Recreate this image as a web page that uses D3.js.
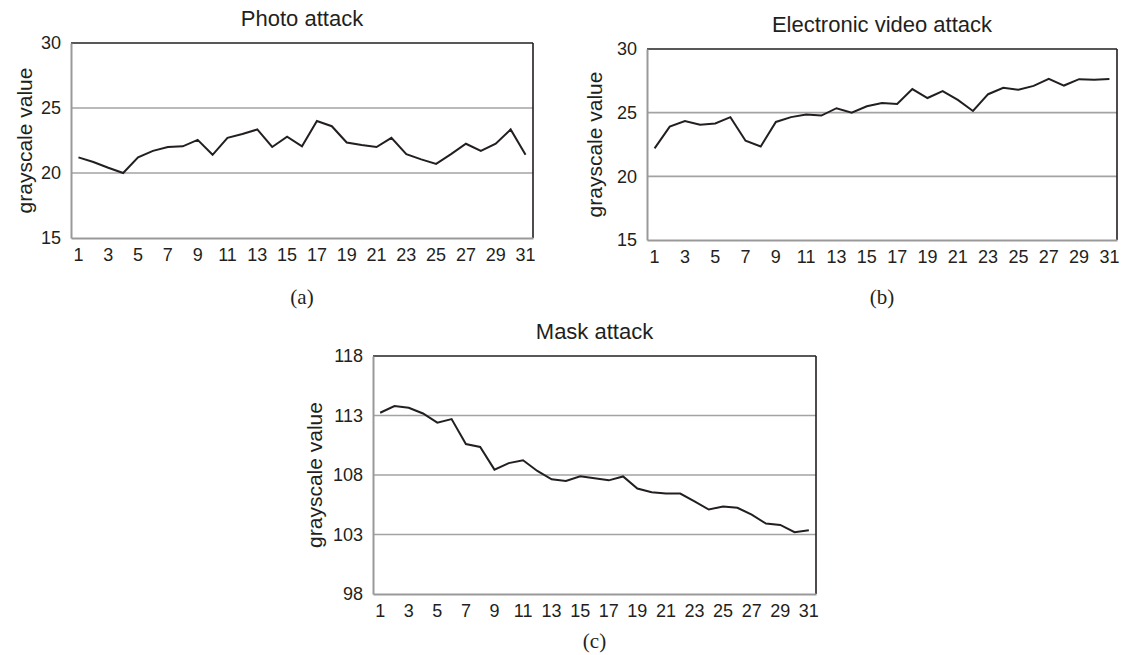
<!DOCTYPE html>
<html>
<head>
<meta charset="utf-8">
<script src="https://cdn.jsdelivr.net/npm/d3@7"></script>
<style>
  body { margin: 0; background: #fff; }
  svg { display: block; }
  text { font-family: "Liberation Sans", Arial, sans-serif; fill: #231f20; }
  .caption { font-family: "Liberation Serif", "Times New Roman", serif; }
</style>
</head>
<body>
<svg id="chart" width="1122" height="655"></svg>
<script>
// frame index, 1..31
const frames = [1,2,3,4,5,6,7,8,9,10,11,12,13,14,15,16,17,18,19,20,21,22,23,24,25,26,27,28,29,30,31];
const xTickLabels = [1,3,5,7,9,11,13,15,17,19,21,23,25,27,29,31];

const photoValues = [21.2,20.85,20.4,20.0,21.2,21.7,22.0,22.05,22.55,21.4,22.7,23.0,23.35,22.0,22.8,22.05,
                     24.0,23.6,22.35,22.15,22.0,22.7,21.45,21.05,20.7,21.45,22.25,21.7,22.25,23.35,21.4];
const videoValues = [22.2,23.9,24.35,24.05,24.15,24.65,22.8,22.35,24.27,24.65,24.85,24.77,25.35,25.0,25.5,25.75,
                     25.68,26.85,26.15,26.7,26.0,25.13,26.45,26.95,26.8,27.1,27.65,27.13,27.63,27.58,27.65];
const maskValues = [113.23,113.8,113.65,113.17,112.4,112.7,110.6,110.36,108.45,109.0,109.24,108.34,107.64,107.5,107.9,107.72,
                    107.55,107.88,106.86,106.55,106.44,106.44,105.78,105.1,105.36,105.25,104.67,103.92,103.8,103.2,103.36];

const photoTicks = [15,20,25,30];
const videoTicks = [15,20,25,30];
const maskTicks = [98,103,108,113,118];

const panels = [
  {title: "Photo attack", caption: "(a)", values: photoValues, ticks: photoTicks,
   left: 71, top: 43, right: 533, bottom: 238, labelX: 24, captionY: 304},
  {title: "Electronic video attack", caption: "(b)", values: videoValues, ticks: videoTicks,
   left: 647, top: 49, right: 1117, bottom: 240, labelX: 594, captionY: 304},
  {title: "Mask attack", caption: "(c)", values: maskValues, ticks: maskTicks,
   left: 373, top: 356, right: 816, bottom: 594, labelX: 314, captionY: 648}
];

const svg = d3.select("#chart");

panels.forEach(function(p) {
  let w = p.right - p.left, h = p.bottom - p.top;
  let g = svg.append("g").attr("transform", "translate(" + p.left + "," + p.top + ")");

  let x = d3.scaleBand().domain(frames).range([0, w]).padding(0);
  let y = d3.scaleLinear().domain([p.ticks[0], p.ticks[p.ticks.length - 1]]).range([h, 0]);

  // inner gridlines
  g.selectAll(".grid")
    .data(p.ticks.slice(1, -1))
    .enter().append("line")
    .attr("x1", 0).attr("x2", w)
    .attr("y1", d => y(d)).attr("y2", d => y(d))
    .attr("stroke", "#a3a3a3").attr("stroke-width", 1.6);

  // frame: top/right dark, left/bottom gray
  g.append("line").attr("x1", 0).attr("x2", w).attr("y1", 0).attr("y2", 0)
    .attr("stroke", "#231f20").attr("stroke-width", 1.6);
  g.append("line").attr("x1", w).attr("x2", w).attr("y1", 0).attr("y2", h)
    .attr("stroke", "#231f20").attr("stroke-width", 1.6);

  let yAxis = g.append("g")
    .call(d3.axisLeft(y).tickValues(p.ticks).tickSize(0).tickPadding(10));
  yAxis.select(".domain").attr("stroke", "#999").attr("stroke-width", 2);
  yAxis.selectAll("text").attr("font-size", 18).attr("fill", "#231f20")
    .attr("font-family", "Liberation Sans, Arial, sans-serif");

  let xAxis = g.append("g")
    .attr("transform", "translate(0," + h + ")")
    .call(d3.axisBottom(x).tickValues(xTickLabels).tickSize(0).tickPadding(10));
  xAxis.select(".domain").attr("stroke", "#999").attr("stroke-width", 2);
  xAxis.selectAll("text").attr("font-size", 18).attr("fill", "#231f20")
    .attr("font-family", "Liberation Sans, Arial, sans-serif");

  let line = d3.line()
    .x((d, i) => x(frames[i]) + x.bandwidth() / 2)
    .y(d => y(d));

  g.append("path")
    .datum(p.values)
    .attr("d", line)
    .attr("fill", "none")
    .attr("stroke", "#231f20")
    .attr("stroke-width", 2)
    .attr("stroke-linejoin", "miter");

  g.append("text")
    .attr("x", w / 2).attr("y", -17)
    .attr("text-anchor", "middle")
    .attr("font-size", 22)
    .text(p.title);

  g.append("text")
    .attr("transform", "translate(" + (p.labelX - p.left) + "," + (h / 2) + ") rotate(-90)")
    .attr("text-anchor", "middle")
    .attr("dominant-baseline", "central")
    .attr("font-size", 21)
    .text("grayscale value");

  g.append("text")
    .attr("class", "caption")
    .attr("x", w / 2).attr("y", p.captionY - p.top)
    .attr("text-anchor", "middle")
    .attr("font-size", 21)
    .text(p.caption);
});
</script>
</body>
</html>
